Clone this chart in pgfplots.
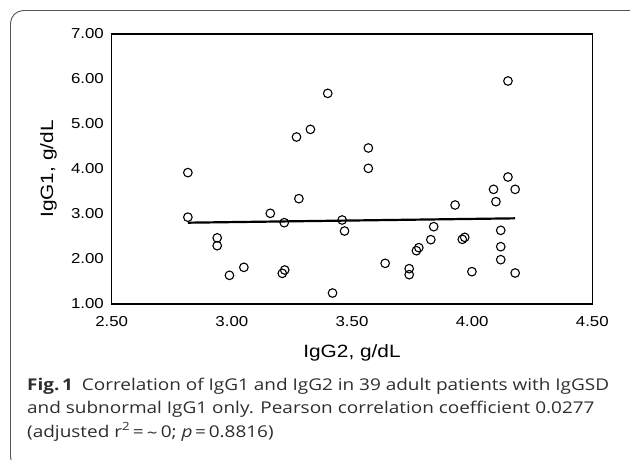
\documentclass[border=0pt]{standalone}
\usepackage{fontspec}
\setmainfont{Liberation Sans}[FakeStretch=1.17]
\newfontfamily\capfont{Open Sans}[FakeStretch=1.17]
\usepackage{pgfplots}
\pgfplotsset{compat=1.18}
\definecolor{capgray}{HTML}{2E2E2E}
\definecolor{framegray}{HTML}{555555}

\begin{document}
\begin{tikzpicture}
\useasboundingbox (0,0) rectangle (630pt,-459pt);
\begin{scope}
  \clip (0,0) rectangle (630pt,-459pt);
  \draw[framegray, line width=0.9pt, rounded corners=13pt] (10.5pt,-10.5pt) rectangle (650pt,-470pt);
\end{scope}

\begin{axis}[
    at={(111.7pt,-304pt)}, anchor=south west,
    scale only axis,
    width=480.6pt, height=270pt,
    xmin=2.5, xmax=4.5,
    ymin=1, ymax=7,
    xtick={2.5,3,3.5,4,4.5},
    ytick={1,2,3,4,5,6,7},
    major tick length=0pt,
    axis line style={black, line width=1.2pt},
    /pgf/number format/assume math mode=true,
    /pgf/number format/.cd, fixed, fixed zerofill, precision=2, /pgfplots/.cd,
    ticklabel style={font=\fontsize{14.4}{17}\selectfont},
    xticklabel style={yshift=-9.3pt},
    yticklabel style={xshift=-4.3pt},
    xlabel={IgG2, g/dL},
    ylabel={IgG1, g/dL},
    label style={font=\fontsize{17.8}{21}\selectfont},
    xlabel style={at={(axis description cs:0.5,0)}, anchor=base, yshift=-53.5pt},
    ylabel style={at={(axis description cs:-0.1221,0.5)}, anchor=base},
    clip=false,
  ]
  \addplot[only marks, mark=o, mark size=4.3pt, line width=1.1pt, black]
    coordinates {
      (2.817,3.92) (2.817,2.93) (2.939,2.47) (2.939,2.296)
      (2.990,1.637) (3.050,1.815) (3.160,3.015) (3.210,1.681)
      (3.220,1.756) (3.218,2.807) (3.269,4.711) (3.279,3.341)
      (3.327,4.881) (3.399,5.681) (3.419,1.244) (3.459,2.867)
      (3.469,2.622) (3.568,4.467) (3.568,4.015) (3.638,1.904)
      (3.738,1.785) (3.738,1.652) (3.768,2.185) (3.778,2.252)
      (3.828,2.430) (3.840,2.719) (3.929,3.200) (3.959,2.437)
      (3.969,2.481) (3.999,1.719) (4.089,3.548) (4.099,3.274)
      (4.119,2.637) (4.119,2.274) (4.119,1.985) (4.149,5.956)
      (4.149,3.822) (4.179,3.548) (4.179,1.689)
    };
  \addplot[black, line width=2.2pt]
    coordinates {(2.817,2.807) (4.179,2.904)};
\end{axis}

\newcommand\capsize{\capfont\fontsize{16.2}{19}\selectfont}
\node[anchor=base west, inner sep=0pt, text=capgray] at (27pt,-390pt)
  {\capsize\textbf{Fig.\,1}\hspace{0.55em}Correlation of IgG1 and IgG2 in 39 adult patients with IgGSD};
\node[anchor=base west, inner sep=0pt, text=capgray] at (27pt,-413.5pt)
  {\capsize and subnormal IgG1 only. Pearson correlation coefficient 0.0277};
\node[anchor=base west, inner sep=0pt, text=capgray] at (27pt,-437pt)
  {\capsize (adjusted r\textsuperscript{2}\,=\,{\fontspec{DejaVu Sans}\fontsize{14}{17}\selectfont\char"223C}\,0; \textit{p}\,=\,0.8816)};
\end{tikzpicture}
\end{document}
